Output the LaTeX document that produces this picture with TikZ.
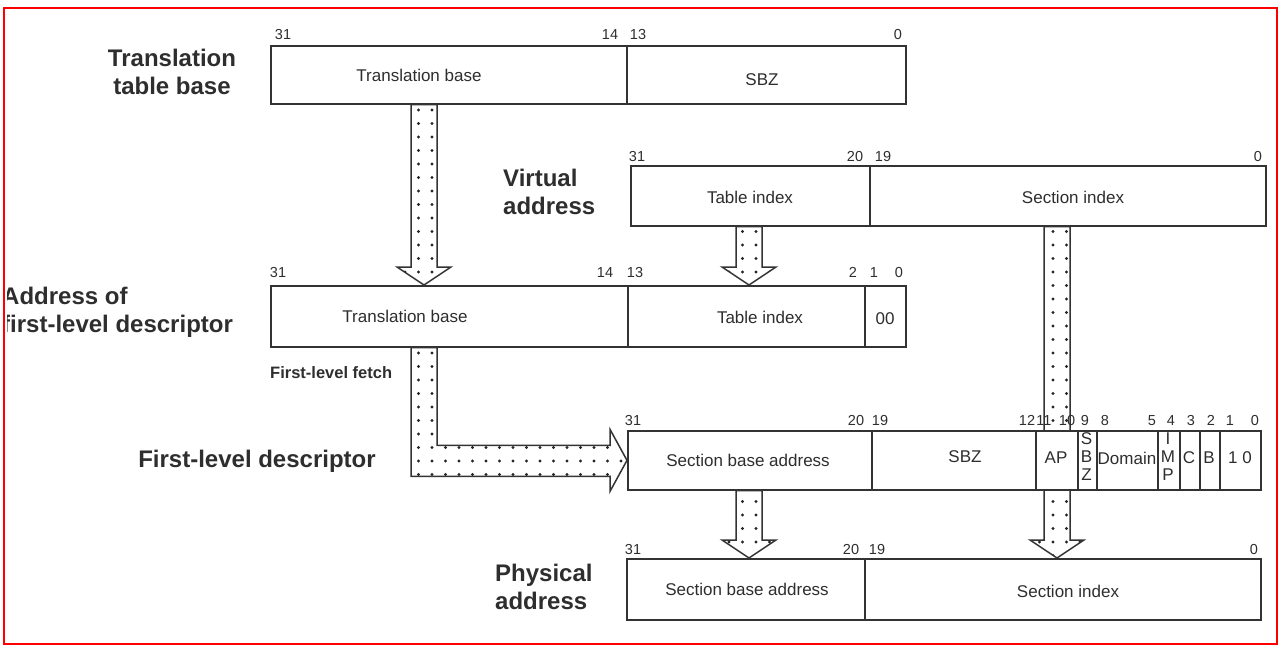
\documentclass[tikz,border=0pt]{standalone}
\usepackage{fontspec}
\setmainfont{Liberation Sans}
\usetikzlibrary{patterns.meta,calc,backgrounds}
\definecolor{ln}{HTML}{333333}
\definecolor{tx}{HTML}{2E2E2E}
\tikzset{
  fld/.style={draw=ln, line width=1.7pt, fill=white, anchor=north west, inner sep=0pt, minimum height=#1},
  ftxt/.style={font=\fontsize{17}{18}\selectfont, text=tx, inner sep=0pt, align=center},
  bitn/.style={font=\fontsize{14.5}{14.5}\selectfont, text=tx, anchor=base, inner sep=0pt},
  lbl/.style={font=\fontsize{24}{28}\selectfont\bfseries, text=tx, inner sep=0pt},
  arr/.style={draw=ln, line width=1.5pt, preaction={fill=white}, pattern={Dots[distance=13.5pt,radius=1.7pt]}, pattern color=black!85},
  frame/.style={draw=red, line width=1.5pt}
}
\newcommand\varr[3]{%
  \path[arr] let \p1=(#1), \p2=(#2) in
   ({(#3-13)*1pt},\y1) -- ({(#3-13)*1pt},{\y2+18pt}) -- ({(#3-27)*1pt},{\y2+18pt})
   -- ({#3*1pt},\y2) -- ({(#3+27)*1pt},{\y2+18pt}) -- ({(#3+13)*1pt},{\y2+18pt})
   -- ({(#3+13)*1pt},\y1) -- cycle;}
\begin{document}
\begin{tikzpicture}[x=1pt,y=-1pt]
\useasboundingbox (0,0) rectangle (1282,650);
% ---------- Row 1: translation table base
\node[fld=58, minimum width=356] (tbbase) at (270,45) {};
\node[fld=58, minimum width=279] (tbsbz) at (626,45) {};
\node[ftxt] (t1a) at (419,75) {Translation base};
\node[ftxt] (t1b) at (762,80) {SBZ};
\node[bitn] (b1a) at (283,40) {31};
\node[bitn] (b1b) at (610,40) {14};
\node[bitn] (b1c) at (638,40) {13};
\node[bitn] (b1d) at (898,40) {0};
\node[lbl, align=center] (l1) at (172,72) {Translation\\table base};
% ---------- Row 2: virtual address
\node[fld=60, minimum width=239] (vati) at (630,165) {};
\node[fld=60, minimum width=396] (vasi) at (869,165) {};
\node[ftxt] (t2a) at (750,197) {Table index};
\node[ftxt] (t2b) at (1073,197) {Section index};
\node[bitn] (b2a) at (637,161) {31};
\node[bitn] (b2b) at (855,161) {20};
\node[bitn] (b2c) at (883,161) {19};
\node[bitn] (b2d) at (1258,161) {0};
\node[lbl, align=left, anchor=west] (l2) at (503,192) {Virtual\\address};
% ---------- Row 3: address of first-level descriptor
\node[fld=61, minimum width=357] (adtb) at (270,285) {};
\node[fld=61, minimum width=237] (adti) at (627,285) {};
\node[fld=61, minimum width=41] (ad00) at (864,285) {};
\node[ftxt] (t3a) at (405,316) {Translation base};
\node[ftxt] (t3b) at (760,317) {Table index};
\node[ftxt] (t3c) at (885,319) {00};
\node[bitn] (b3a) at (278,277) {31};
\node[bitn] (b3b) at (605,277) {14};
\node[bitn] (b3c) at (635,277) {13};
\node[bitn] (b3d) at (853,277) {2};
\node[bitn] (b3e) at (874,277) {1};
\node[bitn] (b3f) at (899,277) {0};
\begin{scope}
  \clip (7,0) rectangle (1282,650);
  \node[lbl, align=left, anchor=west] (l3) at (2,312) {Address of\\first-level descriptor};
\end{scope}
\node[font=\fontsize{16.5}{17}\selectfont\bfseries, text=tx, anchor=west, inner sep=0pt] (fetch) at (270,373) {First-level fetch};
% ---------- Row 4: first-level descriptor
\node[fld=59, minimum width=244] (fdsba) at (627,430) {};
\node[fld=59, minimum width=164] (fdsbz) at (871,430) {};
\node[fld=59, minimum width=42] (fdap) at (1035,430) {};
\node[fld=59, minimum width=19] (fdsbzb) at (1077,430) {};
\node[fld=59, minimum width=61] (fddom) at (1096,430) {};
\node[fld=59, minimum width=22] (fdimp) at (1157,430) {};
\node[fld=59, minimum width=20] (fdc) at (1179,430) {};
\node[fld=59, minimum width=20] (fdb) at (1199,430) {};
\node[fld=59, minimum width=41] (fdten) at (1219,430) {};
\node[ftxt] (t4a) at (748,460) {Section base address};
\node[ftxt] (t4b) at (965,457) {SBZ};
\node[ftxt] (t4c) at (1056,458) {AP};
\node[ftxt] (t4d) at (1086.5,457) {S\\B\\Z};
\node[ftxt] (t4e) at (1127,458) {Domain};
\node[ftxt] (t4f) at (1168,457) {I\\M\\P};
\node[ftxt] (t4g) at (1189,458) {C};
\node[ftxt] (t4h) at (1209,458) {B};
\node[ftxt] (t4i) at (1240,458) {1 0};
\node[bitn] (b4a) at (633,425) {31};
\node[bitn] (b4b) at (856,425) {20};
\node[bitn] (b4c) at (880,425) {19};
\node[bitn] (b4d) at (1027,425) {12};
\node[bitn] (b4e) at (1044,425) {11};
\node[bitn] (b4f) at (1067,425) {10};
\node[bitn] (b4g) at (1085,425) {9};
\node[bitn] (b4h) at (1105,425) {8};
\node[bitn] (b4i) at (1152,425) {5};
\node[bitn] (b4j) at (1171,425) {4};
\node[bitn] (b4k) at (1191,425) {3};
\node[bitn] (b4l) at (1211,425) {2};
\node[bitn] (b4m) at (1230,425) {1};
\node[bitn] (b4n) at (1255,425) {0};
\node[lbl] (l4) at (257,461) {First-level descriptor};
% ---------- Row 5: physical address
\node[fld=61, minimum width=238] (pasba) at (626,558) {};
\node[fld=61, minimum width=396] (pasi) at (864,558) {};
\node[ftxt] (t5a) at (747,589) {Section base address};
\node[ftxt] (t5b) at (1068,591) {Section index};
\node[bitn] (b5a) at (633,554) {31};
\node[bitn] (b5b) at (851,554) {20};
\node[bitn] (b5c) at (877,554) {19};
\node[bitn] (b5d) at (1254,554) {0};
\node[lbl, align=left, anchor=west] (l5) at (495,587) {Physical\\address};
% ---------- block arrows (behind boxes)
\begin{scope}[on background layer]
  \varr{tbbase.south}{adtb.north}{424}
  \varr{vati.south}{adti.north}{749}
  \varr{vasi.south}{pasi.north}{1057}
  \varr{fdsba.south}{pasba.north}{749}
  \path[arr] let \p1=(adtb.south), \p2=(fdsba.west) in
    (411pt,\y1) -- (411pt,{\y2-16pt}) -- ({\x2-17pt},{\y2-16pt}) -- ({\x2-17pt},{\y2-31pt})
    -- (\x2,\y2) -- ({\x2-17pt},{\y2+31pt}) -- ({\x2-17pt},{\y2+15pt})
    -- (437pt,{\y2+15pt}) -- (437pt,\y1) -- cycle;
\end{scope}
% ---------- frame
\draw[frame] (4,8) rectangle (1277,644);
\end{tikzpicture}
\end{document}
